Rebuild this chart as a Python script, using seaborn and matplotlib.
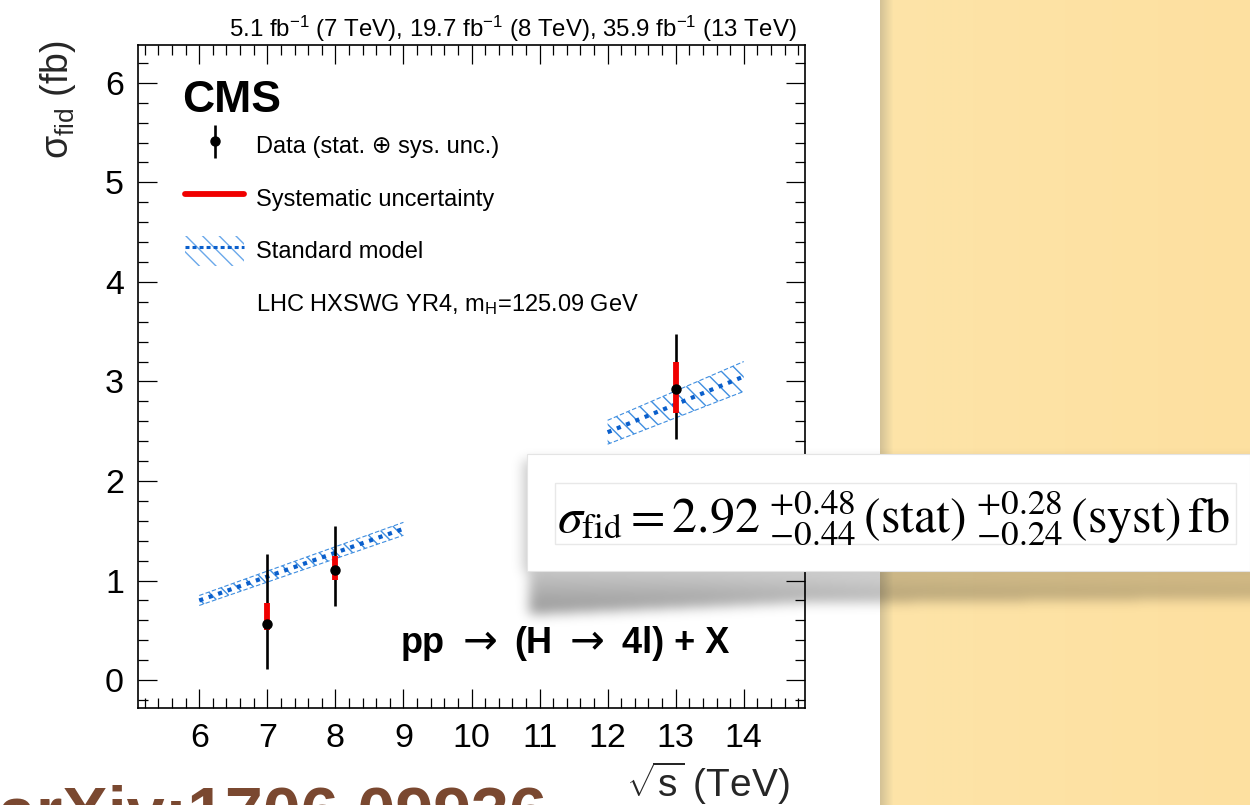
import numpy as np
import pandas as pd
import matplotlib
matplotlib.use("Agg")
import matplotlib.pyplot as plt
from matplotlib.lines import Line2D
from matplotlib.patches import Patch, Rectangle
from matplotlib.legend_handler import HandlerErrorbar, HandlerTuple
from matplotlib.offsetbox import TextArea, HPacker, AnchoredOffsetbox
from matplotlib.ticker import MultipleLocator
import seaborn as sns

# Measured fiducial cross sections, pp -> (H -> 4l) + X (fb)
sqrt_s = [7, 8, 13]
sigma_fid = [0.56, 1.11, 2.92]
stat_up = [0.67, 0.41, 0.48]
stat_down = [0.44, 0.35, 0.44]
syst_up = [0.21, 0.14, 0.28]
syst_down = [0.06, 0.10, 0.24]

# Standard model prediction (LHC HXSWG YR4, mH = 125.09 GeV)
sm_sqrt_s = [6, 7, 8, 9, 12, 13, 14]
sm_sigma = [0.80, 1.04, 1.28, 1.52, 2.49, 2.77, 3.05]
sm_unc = [0.05, 0.055, 0.06, 0.065, 0.12, 0.135, 0.15]
sm_period = ["Run 1"] * 4 + ["Run 2"] * 3

x_ticks = [6, 7, 8, 9, 10, 11, 12, 13, 14]
y_ticks = [0, 1, 2, 3, 4, 5, 6]

lumi_label = (r"5.1 fb$^{-1}$ (7 TeV), 19.7 fb$^{-1}$ (8 TeV), "
              r"35.9 fb$^{-1}$ (13 TeV)")
legend_labels = ["Data (stat. \u2295 sys. unc.)",
                 "Systematic uncertainty",
                 "Standard model",
                 r"LHC HXSWG YR4, m$_{\mathrm{H}}$=125.09 GeV"]
process_parts = ["pp", "\u2192", "(H", "\u2192", "4l) + X"]
reference_label = "arXiv:1706.09936"

sns.set_theme(style="ticks")
plt.rcParams["font.family"] = ["Liberation Sans", "DejaVu Sans"]
plt.rcParams.update({
    "mathtext.fontset": "custom",
    "mathtext.rm": "Liberation Sans",
    "mathtext.it": "Liberation Sans:italic",
    "mathtext.bf": "Liberation Sans:bold",
    "mathtext.sf": "Liberation Sans",
    "hatch.linewidth": 1.0,
    "axes.edgecolor": "black",
    "axes.linewidth": 1.2,
    "xtick.color": "black",
    "ytick.color": "black",
    "text.color": "black",
})

W, H = 1250, 805
fig = plt.figure(figsize=(W / 100, H / 100), dpi=100)
fig.patch.set_facecolor("white")

ax_l, ax_r, ax_t, ax_b = 138, 805, 45, 708
ax = fig.add_axes([ax_l / W, (H - ax_b) / H, (ax_r - ax_l) / W, (ax_b - ax_t) / H])
ax.set_facecolor("white")

total_up = np.hypot(stat_up, syst_up)
total_down = np.hypot(stat_down, syst_down)

sm = pd.DataFrame({"sqrt_s": sm_sqrt_s, "sigma": sm_sigma,
                   "unc": sm_unc, "period": sm_period})

band_color = "#3f8ee0"
line_color = "#0a5fcc"
for _, grp in sm.groupby("period"):
    lo = grp["sigma"] - grp["unc"]
    hi = grp["sigma"] + grp["unc"]
    ax.fill_between(grp["sqrt_s"], lo, hi, facecolor="none", edgecolor=band_color,
                    hatch="\\\\", linewidth=0, zorder=1)
    ax.plot(grp["sqrt_s"], lo, color=band_color, lw=0.8, ls=(0, (4, 2)), zorder=1)
    ax.plot(grp["sqrt_s"], hi, color=band_color, lw=0.8, ls=(0, (4, 2)), zorder=1)
sns.lineplot(data=sm, x="sqrt_s", y="sigma", units="period", estimator=None,
             color=line_color, linewidth=3.0, linestyle=(0, (1.0, 1.4)),
             ax=ax, zorder=2, legend=False)

eb = ax.errorbar(sqrt_s, sigma_fid, yerr=[total_down, total_up], fmt="o",
                 color="black", ms=6.5, elinewidth=1.9, capsize=0, zorder=3)
eb.lines[0].set_zorder(6)
ax.errorbar(sqrt_s, sigma_fid, yerr=[syst_down, syst_up], fmt="none",
            ecolor="#f00000", elinewidth=4.2, capsize=0, zorder=4)

ax.set_xlim(5.1, 14.9)
ax.set_ylim(-0.28, 6.38)
ax.set_xticks(x_ticks)
ax.set_yticks(y_ticks)
ax.xaxis.set_minor_locator(MultipleLocator(0.2))
ax.yaxis.set_minor_locator(MultipleLocator(0.2))
ax.tick_params(which="both", direction="in", top=True, right=True,
               labelsize=24.5, width=0.9)
ax.tick_params(axis="x", pad=11)
ax.tick_params(axis="y", pad=10)
ax.tick_params(which="major", length=14)
ax.tick_params(which="minor", length=7)
for s in ax.spines.values():
    s.set_visible(True)

ax.set_xlabel(r"$\sqrt{\mathrm{s}}$ (TeV)", fontsize=28, loc="right")
ax.xaxis.set_label_coords((790 - ax_l) / (ax_r - ax_l), -(760 - ax_b) / (ax_b - ax_t))
ax.set_ylabel(r"σ$_{\mathrm{fid}}$ (fb)", fontsize=27, loc="top")
ax.yaxis.set_label_coords((78 - ax_l) / (ax_r - ax_l), 1.0 + 5 / (ax_b - ax_t))

def axpos(px, py):
    return (px - ax_l) / (ax_r - ax_l), (ax_b - py) / (ax_b - ax_t)

ax.text(*axpos(797, 37), lumi_label, fontsize=17.3, ha="right", va="baseline",
        transform=ax.transAxes)
ax.text(*axpos(182, 112), "CMS", fontsize=32, fontweight="bold", ha="left",
        va="baseline", transform=ax.transAxes)

# Process label: bold words with thin arrows, laid out on one baseline
parts = []
for p in process_parts:
    if p == "\u2192":
        props = dict(fontsize=30, family="DejaVu Sans", fontweight="normal")
    else:
        props = dict(fontsize=26, family="Liberation Sans", fontweight="bold")
    parts.append(TextArea(p, textprops=props))
process_box = HPacker(children=parts, align="baseline", pad=0, sep=12.5)
ax.add_artist(AnchoredOffsetbox(loc="lower left", child=process_box, pad=0,
                                borderpad=0, frameon=False,
                                bbox_to_anchor=axpos(401, 662),
                                bbox_transform=ax.transAxes))

syst_handle = Line2D([], [], color="#f00000", linewidth=4.2)
sm_handle = (Patch(facecolor="none", edgecolor="#6aa8ea", hatch="\\\\", linewidth=0),
             Line2D([], [], color=line_color, linewidth=2.2, linestyle=(0, (1.3, 1.0))))
blank_handle = Line2D([], [], linestyle="none")
leg = ax.legend([eb, syst_handle, sm_handle, blank_handle], legend_labels,
                loc="upper left", bbox_to_anchor=axpos(185, 130),
                frameon=False, fontsize=17, borderpad=0, borderaxespad=0,
                handlelength=2.5, handleheight=1.6, handletextpad=0.5,
                labelspacing=0.95,
                handler_map={eb: HandlerErrorbar(yerr_size=0.7),
                             tuple: HandlerTuple(ndivide=1, pad=0)})

# Slide overlay: side panel, highlighted result box and reference
ov = fig.add_axes([0, 0, 1, 1], zorder=10)
ov.set_xlim(0, W)
ov.set_ylim(H, 0)
ov.axis("off")
ov.patch.set_alpha(0)

panel_x0 = 880
cols = np.arange(panel_x0, W)
c_main = np.array([253, 228, 168]) / 255
c_right = np.array([253, 224, 160]) / 255
c_edge = np.array([212, 194, 150]) / 255
t = (cols - panel_x0) / (W - panel_x0)
panel = c_main[None, :] * (1 - t[:, None]) + c_right[None, :] * t[:, None]
edge_w = np.clip((cols - panel_x0) / 13.0, 0, 1)[:, None]
panel = c_edge[None, :] * (1 - edge_w) + panel * edge_w
panel_img = np.repeat(panel[None, :, :], 10, axis=0)
ov.imshow(panel_img, extent=(panel_x0, W, H, 0), aspect="auto",
          interpolation="bilinear", zorder=1)

def blur(a, s):
    r = int(3 * s)
    k = np.exp(-0.5 * (np.arange(-r, r + 1) / s) ** 2)
    k /= k.sum()
    a = np.apply_along_axis(lambda m: np.convolve(m, k, mode="same"), 0, a)
    return np.apply_along_axis(lambda m: np.convolve(m, k, mode="same"), 1, a)

box_x0, box_x1, box_y0, box_y1 = 527, W, 454, 571
sx0, sx1, sy0, sy1 = 490, W + 30, 430, 670
X, Y = np.meshgrid(np.arange(sx0, sx1), np.arange(sy0, sy1))
under = ((X >= box_x0 - 4) & (Y >= box_y0 + 6) & (Y <= box_y1)).astype(float)
edge = np.interp(X, [box_x0, 800, 1250], [614, 602, 598])
wedge = ((X >= box_x0 + 2) & (Y >= box_y1 - 2) & (Y <= edge)).astype(float)
depth = np.clip((Y - box_y1) / np.maximum(edge - box_y1, 1), 0, 1)
wedge *= (0.55 + 0.45 * depth) * np.interp(X, [box_x0, 700, 900, 1250],
                                           [1.0, 0.9, 0.7, 0.6])
shadow = blur(np.maximum(under * 0.5, wedge), 6.0)
shadow_img = np.zeros(shadow.shape + (4,))
shadow_img[..., 3] = 0.42 * shadow
ov.imshow(shadow_img, extent=(sx0, sx1, sy1, sy0), aspect="auto", zorder=2)

ov.add_patch(Rectangle((box_x0, box_y0), box_x1 - box_x0, box_y1 - box_y0,
                       facecolor="white", edgecolor="#e4e4e4", linewidth=0.8, zorder=3))
ov.add_patch(Rectangle((555, 483), 1236 - 555, 544 - 483,
                       facecolor="none", edgecolor="#e8e8e8", linewidth=1.0, zorder=4))

i = 2
result_label = (r"$\sigma_{\mathrm{fid}} = %.2f\;{}^{+%.2f}_{-%.2f}\,(\mathrm{stat})"
                r"\;{}^{+%.2f}_{-%.2f}\,(\mathrm{syst})\,\mathrm{fb}$"
                % (sigma_fid[i], stat_up[i], stat_down[i], syst_up[i], syst_down[i]))
ov.text(557, 532, result_label, fontsize=36, math_fontfamily="stix",
        ha="left", va="baseline", zorder=5)

ov.text(-2, 834, reference_label, fontsize=49, fontweight="bold",
        color="#7a4830", ha="left", va="baseline", zorder=5)

fig.savefig("out.png", dpi=100)
